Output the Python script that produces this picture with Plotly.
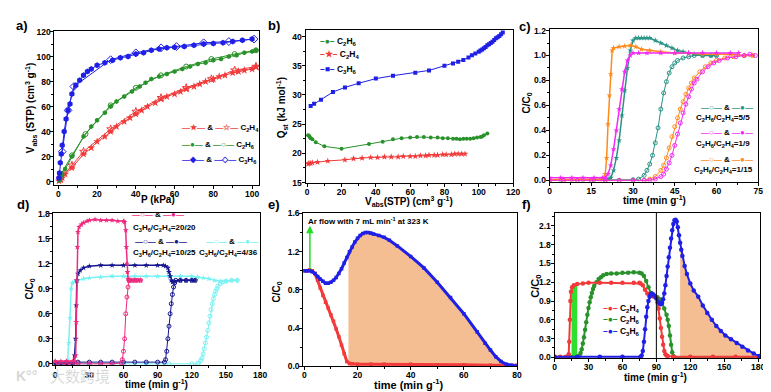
import plotly.graph_objects as go
import numpy as np

W, H = 771, 392
FONT = "Liberation Sans"

# ---------------- Panel a : isotherms ----------------
a_c2h4_ads_p = [0.3, 1, 2, 3.5, 7, 13, 17, 20, 24, 27, 30, 34, 37, 40, 43, 46, 50, 53, 56, 60, 63, 66, 70, 73, 76, 80, 83, 86, 90, 93, 96, 100, 102]
a_c2h4_ads_v = [0.5, 1.5, 3, 6, 11, 22, 27, 32, 36, 40, 44, 48, 51, 54, 57, 60, 63, 66, 68, 70, 72, 74, 76, 78, 80, 82, 84, 85, 87, 88, 89, 90, 92]
a_c2h4_des_p = [102, 91, 79, 66, 53, 40, 27, 13, 7, 1]
a_c2h4_des_v = [92, 89, 82, 75, 67, 56, 42, 24, 13, 2]
a_c2h6_ads_p = [0.5, 1, 2, 3.5, 7, 13, 17, 20, 24, 27, 30, 34, 38, 42, 45, 48, 52, 56, 60, 64, 68, 72, 76, 80, 84, 88, 92, 96, 100, 102]
a_c2h6_ads_v = [1, 3, 6, 10, 20, 36, 44, 49, 55, 60, 64, 68, 72, 76, 79, 82, 84, 86, 88, 90, 92, 94, 95, 97, 98, 100, 101, 103, 104, 105]
a_c2h6_des_p = [102, 91, 79, 66, 53, 40, 27, 14, 7, 1]
a_c2h6_des_v = [105, 102, 98, 92, 85, 75, 61, 38, 21, 5]
a_c3h6_ads_p = [0.3, 0.6, 1, 1.5, 2, 3, 4, 5, 6, 7, 9, 11, 13, 15, 17, 20, 24, 28, 32, 36, 40, 44, 48, 52, 56, 60, 65, 70, 75, 80, 85, 90, 95, 100]
a_c3h6_ads_v = [3, 7, 15, 22, 29, 40, 50, 57, 62, 70, 77, 81, 85, 88, 90, 93, 95, 97, 99, 100, 102, 103, 105, 106, 107, 107.5, 108, 109, 110, 110.5, 111, 112, 113, 114]
a_c3h6_des_p = [101, 88, 75, 61, 53, 40, 27, 8, 5, 2]
a_c3h6_des_v = [114, 112, 111, 108, 107, 103, 97.5, 76, 57, 24]

# ---------------- Panel b : Qst ----------------
b_c2h6_v = [0.5, 1, 1.5, 2, 3, 5, 10, 20, 36, 44, 50, 55, 60, 64, 68, 72, 76, 79, 82, 85, 87, 89, 91, 93, 95, 97, 99, 101, 102, 103, 105]
b_c2h6_q = [23.1, 23.0, 22.8, 22.6, 22.4, 21.9, 21.2, 20.8, 21.6, 22.0, 22.4, 22.6, 22.7, 22.8, 22.8, 22.7, 22.7, 22.6, 22.6, 22.5, 22.5, 22.4, 22.5, 22.5, 22.5, 22.6, 22.7, 22.8, 22.9, 23.1, 23.4]
b_c2h4_v = [0.5, 1, 2, 3, 6, 12, 22, 27, 32, 37, 41, 45, 49, 53, 56, 60, 63, 66, 69, 71, 74, 76, 79, 81, 84, 86, 88, 90, 92]
b_c2h4_q = [18.2, 18.3, 18.3, 18.4, 18.5, 18.7, 18.9, 19.1, 19.2, 19.3, 19.3, 19.4, 19.4, 19.4, 19.5, 19.5, 19.5, 19.6, 19.6, 19.7, 19.7, 19.7, 19.8, 19.8, 19.8, 19.9, 19.9, 19.9, 19.9]
b_c3h6_v = [2, 4, 8, 15, 22, 30, 40, 50, 63, 71, 80, 85, 88, 91, 94, 96, 98, 100, 101, 102, 103, 104, 105, 106, 107, 108, 109, 110, 111, 112, 113, 114]
b_c3h6_q = [28.1, 28.5, 29.2, 30.5, 31.3, 32.0, 32.8, 33.3, 33.8, 34.2, 35.0, 35.4, 35.7, 36.0, 36.4, 36.8, 37.1, 37.4, 37.6, 37.8, 38.0, 38.2, 38.5, 38.7, 38.9, 39.1, 39.4, 39.7, 39.9, 40.1, 40.4, 40.7]

# ---------------- Panel c : C2H6/C2H4 breakthrough ----------------
c_teal_f_t = [0, 4, 8, 12, 16, 20, 21, 22, 23, 24, 25, 26, 27, 28, 29, 30, 31, 32, 33, 34, 35, 36, 38, 40, 42, 44, 46, 48, 50, 52, 55, 58, 60]
c_teal_f_y = [0, 0, 0, 0, 0, 0.005, 0.01, 0.02, 0.08, 0.18, 0.32, 0.52, 0.72, 0.9, 1.04, 1.12, 1.14, 1.14, 1.14, 1.14, 1.14, 1.14, 1.12, 1.1, 1.08, 1.06, 1.04, 1.03, 1.02, 1.01, 1.0, 1.0, 1.0]
c_teal_o_t = [0, 5, 10, 15, 20, 25, 30, 32, 34, 35, 36, 37, 38, 39, 40, 41, 42, 43, 44, 45, 46, 48, 50, 52, 55, 58, 60]
c_teal_o_y = [0, 0, 0, 0, 0, 0, 0.005, 0.01, 0.04, 0.08, 0.13, 0.2, 0.3, 0.42, 0.57, 0.7, 0.79, 0.86, 0.91, 0.94, 0.96, 0.98, 0.99, 1.0, 1.0, 1.0, 1.0]
c_mag_f_t = [0, 4, 8, 12, 16, 19, 20, 21, 22, 23, 24, 25, 26, 27, 28, 29, 30, 32, 35, 40, 45, 50, 55, 60, 65, 68]
c_mag_f_y = [0.02, 0.02, 0.02, 0.02, 0.02, 0.02, 0.02, 0.05, 0.12, 0.25, 0.4, 0.57, 0.73, 0.87, 0.96, 1.0, 1.02, 1.02, 1.02, 1.02, 1.02, 1.02, 1.02, 1.02, 1.02, 1.02]
c_mag_o_t = [0, 5, 10, 15, 20, 25, 30, 34, 36, 38, 40, 41, 42, 43, 44, 45, 46, 47, 48, 49, 50, 51, 52, 53, 55, 57, 59, 61, 64, 67, 70, 72, 74]
c_mag_o_y = [0, 0, 0, 0, 0, 0, 0, 0, 0, 0.01, 0.03, 0.05, 0.09, 0.14, 0.2, 0.28, 0.37, 0.46, 0.54, 0.61, 0.67, 0.73, 0.78, 0.81, 0.87, 0.91, 0.94, 0.96, 0.98, 0.99, 1.0, 1.01, 1.0]
c_org_f_t = [0, 4, 8, 12, 16, 18, 19, 20, 20.5, 21, 21.5, 22, 22.5, 23, 25, 27, 29, 31, 33, 36, 40, 45, 50, 55, 60, 65, 70, 73]
c_org_f_y = [0.005, 0.005, 0.005, 0.005, 0.005, 0.005, 0.01, 0.05, 0.18, 0.45, 0.68, 0.85, 1.04, 1.06, 1.07, 1.075, 1.08, 1.07, 1.05, 1.04, 1.03, 1.02, 1.02, 1.01, 1.01, 1.01, 1.0, 1.0]
c_org_o_t = [0, 5, 10, 15, 20, 25, 30, 34, 36, 38, 40, 41, 42, 43, 44, 45, 46, 47, 48, 49, 50, 51, 52, 54, 56, 58, 60, 63, 66, 70, 73]
c_org_o_y = [0, 0, 0, 0, 0, 0, 0, 0, 0.01, 0.03, 0.08, 0.12, 0.18, 0.26, 0.35, 0.43, 0.5, 0.57, 0.63, 0.69, 0.74, 0.78, 0.82, 0.87, 0.91, 0.94, 0.96, 0.98, 0.99, 1.0, 1.0]

# ---------------- Panel d : C3H6/C2H4 breakthrough ----------------
d_pink_f_t = [0, 5, 10, 15, 17, 18, 18.5, 19, 19.5, 20, 21, 23, 25, 28, 30, 35, 40, 45, 50, 55, 60, 61, 62, 62.5, 63, 63.5, 64, 64.5, 65, 67, 70, 73, 75]
d_pink_f_y = [0.03, 0.03, 0.03, 0.03, 0.03, 0.1, 0.5, 1.0, 1.4, 1.58, 1.64, 1.67, 1.69, 1.71, 1.72, 1.73, 1.72, 1.72, 1.72, 1.71, 1.71, 1.7, 1.6, 1.4, 1.2, 1.1, 1.02, 1.0, 1.0, 1.0, 1.0, 1.0, 1.0]
d_pink_o_t = [0, 10, 20, 30, 40, 50, 58, 59, 60, 61, 62, 63, 64, 65, 66, 68, 70, 72, 75]
d_pink_o_y = [0, 0, 0, 0, 0, 0, 0.01, 0.05, 0.15, 0.3, 0.6, 0.8, 0.92, 1.0, 1.0, 1.0, 1.0, 1.0, 1.0]
d_navy_f_t = [0, 5, 10, 15, 16, 17, 18, 18.5, 19, 20, 22, 25, 30, 40, 50, 60, 70, 80, 90, 95, 97, 99, 100, 101, 102, 103, 105, 110, 115, 120, 123]
d_navy_f_y = [0, 0, 0, 0, 0.01, 0.1, 0.3, 0.7, 1.0, 1.08, 1.12, 1.15, 1.17, 1.18, 1.18, 1.18, 1.18, 1.18, 1.18, 1.18, 1.17, 1.15, 1.1, 1.05, 1.0, 0.98, 0.99, 1.0, 1.0, 1.0, 1.0]
d_navy_o_t = [0, 10, 20, 30, 40, 50, 60, 70, 80, 90, 96, 97, 98, 99, 100, 101, 102, 103, 104, 105, 106, 110, 115, 120, 123]
d_navy_o_y = [0.02, 0.02, 0.02, 0.02, 0.02, 0.02, 0.02, 0.02, 0.02, 0.02, 0.02, 0.05, 0.15, 0.3, 0.45, 0.6, 0.72, 0.83, 0.92, 0.97, 1.0, 1.0, 1.0, 1.0, 1.0]
d_cyan_f_t = [0, 5, 10, 11, 12, 13, 14, 15, 17, 20, 25, 30, 40, 50, 60, 70, 80, 90, 100, 110, 120, 125, 130, 135, 140, 145, 150, 155, 160]
d_cyan_f_y = [0, 0, 0, 0.05, 0.25, 0.55, 0.9, 0.97, 0.98, 1.0, 1.02, 1.03, 1.04, 1.05, 1.05, 1.05, 1.05, 1.05, 1.05, 1.05, 1.05, 1.04, 1.03, 1.02, 1.0, 0.99, 0.99, 1.0, 1.0]
d_cyan_o_t = [0, 20, 40, 60, 80, 100, 120, 125, 126, 128, 129, 130, 131, 132, 133, 134, 135, 136, 137, 138, 139, 140, 141, 142, 143, 145, 147, 150, 155, 160]
d_cyan_o_y = [0, 0, 0, 0, 0, 0, 0, 0, 0.01, 0.04, 0.07, 0.12, 0.18, 0.25, 0.32, 0.4, 0.49, 0.57, 0.65, 0.72, 0.78, 0.83, 0.87, 0.9, 0.93, 0.96, 0.98, 0.99, 1.0, 1.0]

# ---------------- Panel e : desorption ----------------
e_blue_t = [0, 1, 2, 3, 4, 5, 6, 7, 8, 9, 10, 11, 12, 13, 14, 15, 16, 17, 18, 19, 20, 21, 22, 23, 24, 25, 26, 28, 30, 32, 35, 40, 45, 50, 55, 60, 65, 68, 70, 72, 74, 76, 78, 80]
e_blue_y = [1.0, 1.0, 1.0, 0.99, 0.97, 0.94, 0.91, 0.89, 0.87, 0.87, 0.88, 0.9, 0.93, 0.97, 1.02, 1.08, 1.14, 1.2, 1.25, 1.3, 1.34, 1.37, 1.39, 1.4, 1.4, 1.395, 1.385, 1.37, 1.35, 1.32, 1.26, 1.15, 1.03, 0.88, 0.72, 0.55, 0.36, 0.24, 0.17, 0.1, 0.05, 0.02, 0.01, 0.0]
e_red_t = [0, 1, 2, 3, 4, 5, 6, 7, 8, 9, 10, 11, 12, 13, 14, 15, 16, 17, 18, 20, 25, 30, 40, 50, 60, 70, 80]
e_red_y = [1.0, 1.0, 1.01, 1.0, 0.97, 0.9, 0.82, 0.74, 0.67, 0.61, 0.54, 0.47, 0.39, 0.31, 0.22, 0.13, 0.05, 0.03, 0.025, 0.02, 0.02, 0.02, 0.02, 0.015, 0.015, 0.01, 0.01]
e_fill_start = 16.6

# ---------------- Panel f : ternary breakthrough ----------------
f_red_t = [0, 5, 10, 12, 12.5, 13, 13.5, 14, 14.5, 15.5, 17, 20, 25, 30, 40, 50, 60, 70, 75, 76, 78, 80, 82, 84, 86, 88, 90, 91, 92, 93, 94, 95, 96, 97, 98, 99, 100, 105, 120, 140, 160, 180, 190]
f_red_y = [0.01, 0.01, 0.01, 0.01, 0.05, 0.25, 0.6, 0.9, 1.05, 1.12, 1.15, 1.17, 1.18, 1.19, 1.19, 1.19, 1.19, 1.19, 1.19, 1.18, 1.15, 1.08, 1.02, 0.99, 0.98, 0.97, 0.95, 0.88, 0.78, 0.62, 0.47, 0.33, 0.2, 0.1, 0.05, 0.03, 0.02, 0.01, 0.01, 0.01, 0.01, 0.01, 0.01]
f_green_t = [0, 5, 10, 15, 20, 21, 22, 23, 24, 25, 26, 27, 28, 29, 30, 31, 32, 33, 34, 35, 37, 39, 41, 43, 46, 50, 55, 60, 65, 70, 75, 77, 79, 81, 83, 85, 87, 89, 91, 93, 95, 97, 99, 100, 101, 102, 103, 104, 105, 106, 120, 140, 160, 180, 190]
f_green_y = [0, 0, 0, 0, 0, 0.01, 0.03, 0.07, 0.13, 0.22, 0.32, 0.44, 0.56, 0.68, 0.79, 0.88, 0.96, 1.03, 1.09, 1.14, 1.2, 1.25, 1.28, 1.31, 1.33, 1.34, 1.34, 1.35, 1.35, 1.36, 1.35, 1.34, 1.3, 1.22, 1.12, 1.03, 0.98, 0.97, 0.96, 0.93, 0.87, 0.78, 0.68, 0.6, 0.5, 0.35, 0.2, 0.08, 0.02, 0, 0, 0, 0, 0, 0]
f_blue_t = [0, 20, 40, 60, 76, 77, 78, 79, 80, 81, 82, 83, 84, 85, 86, 87, 88, 90, 92, 93, 94, 95, 96, 97, 98, 99, 100, 101, 102, 103, 104, 105, 106, 107, 108, 109, 110, 111, 112, 113, 115, 117, 120, 123, 127, 131, 135, 139, 143, 147, 151, 156, 161, 166, 171, 176, 181, 188]
f_blue_y = [0.01, 0.01, 0.01, 0.01, 0.01, 0.03, 0.1, 0.25, 0.45, 0.65, 0.8, 0.9, 0.97, 1.01, 1.02, 1.01, 0.99, 0.94, 0.88, 0.86, 0.85, 0.87, 0.93, 1.02, 1.15, 1.3, 1.45, 1.6, 1.75, 1.9, 2.03, 2.13, 2.19, 2.2, 2.17, 2.08, 1.95, 1.83, 1.72, 1.62, 1.46, 1.33, 1.18, 1.07, 0.97, 0.83, 0.71, 0.6, 0.5, 0.42, 0.35, 0.29, 0.23, 0.17, 0.11, 0.06, 0.02, 0.0]
f_fill_start = 111
f_green_fill = (15, 20)
f_vline = 90

# ---------------- colours ----------------
RED = "#f23a3a"
GREEN = "#2a922a"
BLUE = "#1f1fe6"
TEAL = "#2a9486"
MAG = "#f22af2"
ORG = "#ff8a1c"
PINK = "#ee2a7e"
NAVY = "#16168f"
CYAN = "#78f2f2"
PEACH = "#f5bd92"
LIME = "#2ee02e"

fig = go.Figure()


def tr(x, y, n, color, symbol, size, lw=1.0, mode="lines+markers", open_=False):
    xa = "x" if n == 1 else f"x{n}"
    ya = "y" if n == 1 else f"y{n}"
    fig.add_trace(go.Scatter(
        x=x, y=y, xaxis=xa, yaxis=ya, mode=mode,
        line=dict(color=color, width=lw),
        marker=dict(color=color, symbol=symbol, size=size,
                    line=dict(color=color, width=1 if open_ else 0)),
        showlegend=False, hoverinfo="skip"))


def filltr(x, y, n, color):
    fig.add_trace(go.Scatter(
        x=x, y=y, xaxis=f"x{n}", yaxis=f"y{n}", mode="lines",
        line=dict(width=0, color=color), fill="tozeroy", fillcolor=color,
        showlegend=False, hoverinfo="skip"))


# panel a
tr(a_c2h4_ads_p, a_c2h4_ads_v, 1, RED, "star", 6)
tr(a_c2h4_des_p, a_c2h4_des_v, 1, RED, "star-open", 6, open_=True)
tr(a_c2h6_ads_p, a_c2h6_ads_v, 1, GREEN, "hexagon", 5)
tr(a_c2h6_des_p, a_c2h6_des_v, 1, GREEN, "circle-open", 5, open_=True)
tr(a_c3h6_ads_p, a_c3h6_ads_v, 1, BLUE, "hexagon", 6)
tr(a_c3h6_des_p, a_c3h6_des_v, 1, BLUE, "diamond-open", 6, open_=True)

# panel b
tr(b_c2h6_v, b_c2h6_q, 2, GREEN, "circle", 4)
tr(b_c2h4_v, b_c2h4_q, 2, RED, "star", 5)
tr(b_c3h6_v, b_c3h6_q, 2, BLUE, "square", 4)

# panel c
for (ft, fy, ot, oy, col) in [(c_teal_f_t, c_teal_f_y, c_teal_o_t, c_teal_o_y, TEAL),
                              (c_org_f_t, c_org_f_y, c_org_o_t, c_org_o_y, ORG),
                              (c_mag_f_t, c_mag_f_y, c_mag_o_t, c_mag_o_y, MAG)]:
    tr(ot, oy, 3, col, "circle-open", 4, open_=True)
    tr(ft, fy, 3, col, "star", 4.5, lw=1.5)

# panel d
for (ft, fy, ot, oy, col) in [(d_cyan_f_t, d_cyan_f_y, d_cyan_o_t, d_cyan_o_y, CYAN),
                              (d_navy_f_t, d_navy_f_y, d_navy_o_t, d_navy_o_y, NAVY),
                              (d_pink_f_t, d_pink_f_y, d_pink_o_t, d_pink_o_y, PINK)]:
    tr(ot, oy, 4, col, "circle-open", 4, open_=True)
    tr(ft, fy, 4, col, "star", 4.5, lw=1.5)

# panel e
e_bt = np.array(e_blue_t, float)
e_by = np.array(e_blue_y, float)
m = e_bt > e_fill_start
filltr([e_fill_start] + list(e_bt[m]), [float(np.interp(e_fill_start, e_bt, e_by))] + list(e_by[m]), 5, PEACH)
tr(e_red_t, e_red_y, 5, RED, "square", 3.5, lw=3)
tr(e_blue_t, e_blue_y, 5, BLUE, "square", 3.5, lw=3)

# panel f
f_bt = np.array(f_blue_t, float)
f_by = np.array(f_blue_y, float)
m = f_bt > f_fill_start
filltr([f_fill_start] + list(f_bt[m]), [float(np.interp(f_fill_start, f_bt, f_by))] + list(f_by[m]), 6, PEACH)
f_rt = np.array(f_red_t, float)
f_ry = np.array(f_red_y, float)
m = (f_rt > f_green_fill[0]) & (f_rt < f_green_fill[1])
gx = [f_green_fill[0]] + list(f_rt[m]) + [f_green_fill[1]]
gy = [float(np.interp(f_green_fill[0], f_rt, f_ry))] + list(f_ry[m]) + [float(np.interp(f_green_fill[1], f_rt, f_ry))]
filltr(gx, gy, 6, LIME)
tr(f_green_t, f_green_y, 6, GREEN, "circle", 4.5, lw=2)
tr(f_red_t, f_red_y, 6, RED, "circle", 4.5, lw=2)
tr(f_blue_t, f_blue_y, 6, BLUE, "circle", 4.5, lw=2)


# ---------------- axes ----------------
def axis(dom, rng, dtick, minor, anchor, fmt=None):
    d = dict(domain=dom, range=rng, anchor=anchor, dtick=dtick, tick0=0,
             showline=True, linecolor="black", linewidth=1, mirror=True,
             ticks="outside", ticklen=3, tickwidth=1, tickcolor="black",
             ticklabelstandoff=-2,
             showgrid=False, zeroline=False,
             tickfont=dict(family=FONT, size=8.5, color="black", weight="bold"),
             minor=dict(ticks="outside", ticklen=2, dtick=minor, tickcolor="black"))
    if fmt:
        d["tickformat"] = fmt
    return d


def px(x):
    return x / W


def py(y):
    return 1 - y / H


lay = {}
panels = [
    # n, xdom(px), ydom(px top,bottom), xrange, yrange, xdt, xminor, ydt, yminor, yfmt
    (1, (45, 252), (18, 176), [-2, 103.6], [-2.3, 120.8], 20, 10, 20, 10, None),
    (2, (299, 509), (17, 174), [-1, 120], [15, 41.2], 20, 10, 5, 2.5, None),
    (3, (546, 757), (16.7, 173), [0, 75], [-0.01, 1.21], 15, 7.5, 0.2, 0.1, ".1f"),
    (4, (44, 253), (205, 361.7), [-1.5, 180], [-0.02, 1.81], 30, 15, 0.3, 0.15, ".1f"),
    (5, (296.7, 513), (205.7, 362.5), [-0.4, 80], [0, 1.6], 20, 10, 0.4, 0.2, ".1f"),
    (6, (551, 759.3), (205, 354), [0, 182], [-0.01, 2.31], 30, 15, 0.3, 0.15, ".1f"),
]
for n, xd, yd, xr, yr, xdt, xmn, ydt, ymn, yf in panels:
    xk = "xaxis" if n == 1 else f"xaxis{n}"
    yk = "yaxis" if n == 1 else f"yaxis{n}"
    xa = "x" if n == 1 else f"x{n}"
    ya = "y" if n == 1 else f"y{n}"
    lay[xk] = axis([px(xd[0]), px(xd[1])], xr, xdt, xmn, ya)
    lay[yk] = axis([py(yd[1]), py(yd[0])], yr, ydt, ymn, xa, yf)


def ann(text, x, y, size=10, xanchor="center", yanchor="middle", angle=0, bold=True, color="black", family=FONT):
    return dict(text=text, x=px(x), y=py(y), xref="paper", yref="paper", showarrow=False,
                xanchor=xanchor, yanchor=yanchor, textangle=angle,
                font=dict(family=family, size=size, color=color, weight="bold" if bold else "normal"))


def sp(color, s):
    return f"<span style='color:{color}'>{s}</span>"


C2H4 = "C<sub>2</sub>H<sub>4</sub>"
C2H6 = "C<sub>2</sub>H<sub>6</sub>"
C3H6 = "C<sub>3</sub>H<sub>6</sub>"
CM = "(cm<sup>3</sup> g<sup>-1</sup>)"
TIME = "time (min g<sup>-1</sup>)"
CC0 = "C/C<sub>0</sub>"

anns = [
    # watermark (drawn first, underneath)
    ann("K°°", 4, 372, 14, "left", bold=True, color="rgba(205,205,205,0.8)"),
    ann("大数跨境", 38, 372, 15, "left", bold=False, color="rgba(205,205,205,0.75)", family="Noto Sans CJK SC"),
    ann("a)", 4, 13, 13, "left"), ann("b)", 259, 13, 13, "left"), ann("c)", 513, 14, 13, "left"),
    ann("d)", 5, 197, 13, "left"), ann("e)", 259, 197, 13, "left"), ann("f)", 516, 197, 13, "left"),
    # axis titles
    ann("V<sub>abs</sub> (STP) " + CM, 21, 97, 10, angle=-90),
    ann("P (kPa)", 150, 191, 10),
    ann("Q<sub>st</sub> (kJ mol<sup>-1</sup>)", 275, 97, 10, angle=-90),
    ann("V<sub>abs</sub>(STP) " + CM, 404, 193, 10),
    ann(CC0, 523, 92, 10, angle=-90),
    ann(TIME, 652, 192, 10),
    ann(CC0, 20, 283, 10, angle=-90),
    ann(TIME, 148, 381, 10),
    ann(CC0, 270, 286, 10, angle=-90),
    ann(TIME, 404, 381, 11),
    ann(CC0, 532, 280, 11, angle=-90),
    ann(TIME, 653, 374, 10),
    # legend a
    ann(sp(RED, "—★—") + " & " + sp(RED, "—☆—") + " " + C2H4, 172, 118, 8, "left"),
    ann(sp(GREEN, "—●—") + " & " + sp(GREEN, "—○—") + " " + C2H6, 172, 135, 8, "left"),
    ann(sp(BLUE, "—◆—") + " & " + sp(BLUE, "—◇—") + " " + C3H6, 172, 151, 8, "left"),
    # legend b
    ann(sp(GREEN, "–●–") + " " + C2H6, 312, 29, 8.5, "left"),
    ann(sp(RED, "–★–") + " " + C2H4, 312, 43, 8.5, "left"),
    ann(sp(BLUE, "–■–") + " " + C3H6, 312, 58, 8.5, "left"),
    # legend c
    ann(sp(TEAL, "—○—") + " & " + sp(TEAL, "—●—"), 725, 97, 8),
    ann(C2H6 + "/" + C2H4 + "=5/5", 721, 108, 8),
    ann(sp(MAG, "—○—") + " & " + sp(MAG, "—●—"), 725, 123, 8),
    ann(C2H6 + "/" + C2H4 + "=1/9", 721, 134, 8),
    ann(sp(ORG, "—○—") + " & " + sp(ORG, "—●—"), 725, 150, 8),
    ann(C2H6 + "/" + C2H4 + "=1/15", 722, 161, 8),
    # legend d
    ann(sp(PINK, "—○—") + " & " + sp(PINK, "—●—"), 150, 207, 8),
    ann(C3H6 + "/" + C2H4 + "=20/20", 156, 221, 8),
    ann(sp(NAVY, "—○—") + " & " + sp(NAVY, "—●—"), 153, 234, 8),
    ann(C3H6 + "/" + C2H4 + "=10/25", 156, 246, 8),
    ann(sp(CYAN, "—○—") + " & " + sp(CYAN, "—●—"), 225, 234, 8),
    ann(C3H6 + "/" + C2H4 + "=4/36", 221, 246, 8),
    # legend f
    ann(sp(RED, "–●–") + " " + C2H4, 598, 303, 8.5, "left"),
    ann(sp(GREEN, "–●–") + " " + C2H6, 598, 315, 8.5, "left"),
    ann(sp(BLUE, "–●–") + " " + C3H6, 598, 327, 8.5, "left"),
]
# e annotation text and arrow
anns.append(dict(text="Ar flow with 7 mL min<sup>-1</sup> at 323 K", x=0.6, y=1.525, xref="x5", yref="y5",
                 showarrow=False, xanchor="left", yanchor="middle",
                 font=dict(family=FONT, size=8, color="black", weight="bold")))
anns.append(dict(text="", x=2.1, y=1.47, xref="x5", yref="y5", ax=2.1, ay=1.0, axref="x5", ayref="y5",
                 showarrow=True, arrowhead=2, arrowsize=1, arrowwidth=1.5, arrowcolor="#22dd22"))

shapes = [dict(type="line", x0=f_vline, x1=f_vline, xref="x6", y0=0, y1=1, yref="y6 domain",
               line=dict(color="black", width=1))]

fig.update_layout(width=W, height=H, margin=dict(l=0, r=0, t=0, b=0),
                  paper_bgcolor="white", plot_bgcolor="white", showlegend=False,
                  annotations=anns, shapes=shapes, font=dict(family=FONT), **lay)

fig.write_html("out.html")
